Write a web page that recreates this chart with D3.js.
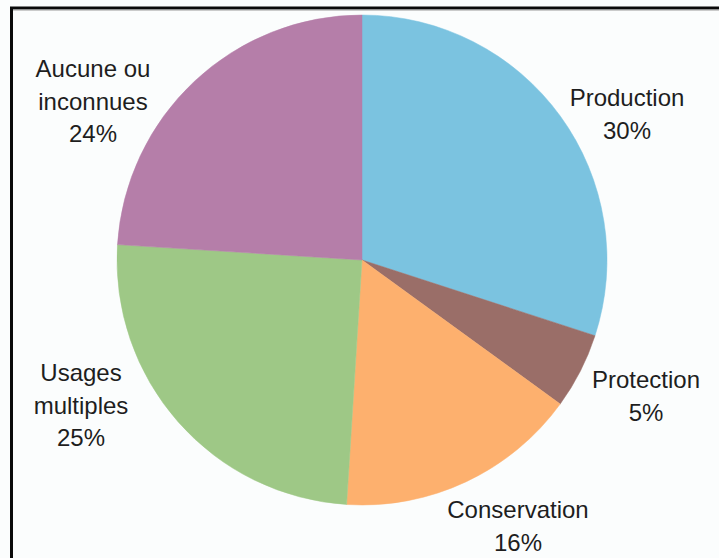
<!DOCTYPE html>
<html>
<head>
<meta charset="utf-8">
<script src="https://cdn.jsdelivr.net/npm/d3@7"></script>
<style>
  html, body { margin: 0; padding: 0; background: #fbfdfd; }
  svg { display: block; }
  text { font-family: "Liberation Sans", Arial, Helvetica, sans-serif; }
</style>
</head>
<body>
<svg id="chart" width="719" height="558"></svg>
<script>
// Affectation des forêts (parts en %)
const categories = ["Production", "Protection", "Conservation", "Usages multiples", "Aucune ou inconnues"];
const shares = [30, 5, 16, 25, 24];
const labelLines = [
  ["Production", "30%"],
  ["Protection", "5%"],
  ["Conservation", "16%"],
  ["Usages", "multiples", "25%"],
  ["Aucune ou", "inconnues", "24%"]
];
const colors = ["#7bc3e0", "#9a6e68", "#fdb06e", "#9ec886", "#b57ea9"];

// Layout
const W = 719, H = 558;
const cx = 362, cy = 260, R = 245;
const lineH = 32.5;
// label block centres (x, y of first baseline)
const labelAnchor = {
  "Production": [627, 106],
  "Protection": [646, 388],
  "Conservation": [518, 518],
  "Usages multiples": [81, 381],
  "Aucune ou inconnues": [93, 77]
};

const svg = d3.select("#chart");
svg.append("rect").attr("width", W).attr("height", H).attr("fill", "#fbfdfd");

// frame (top and left edges)
svg.append("path")
  .attr("d", `M11.5,${H} V8 H${W}`)
  .attr("fill", "none").attr("stroke", "#0a0a0a").attr("stroke-width", 3);
svg.append("line")
  .attr("x1", 13).attr("x2", W).attr("y1", 10).attr("y2", 10)
  .attr("stroke", "#9a9a9a").attr("stroke-width", 1);

const data = categories.map((c, i) => ({ cat: c, value: shares[i], lines: labelLines[i], color: colors[i] }));

const pie = d3.pie().value(d => d.value).sort(null);
const arc = d3.arc().innerRadius(0).outerRadius(R);

const g = svg.append("g").attr("transform", `translate(${cx},${cy})`);
g.selectAll("path.slice")
  .data(pie(data))
  .join("path")
  .attr("class", "slice")
  .attr("d", arc)
  .attr("fill", d => d.data.color)
  .attr("stroke", d => d.data.color)
  .attr("stroke-width", 0.5);

const labels = svg.selectAll("text.lbl")
  .data(data)
  .join("text")
  .attr("class", "lbl")
  .attr("text-anchor", "middle")
  .attr("font-size", 24)
  .attr("fill", "#1e1e1e")
  .attr("x", d => labelAnchor[d.cat][0])
  .attr("y", d => labelAnchor[d.cat][1]);

labels.selectAll("tspan")
  .data(d => d.lines.map((t, j) => ({ t, j, x: labelAnchor[d.cat][0], y: labelAnchor[d.cat][1] })))
  .join("tspan")
  .attr("x", d => d.x)
  .attr("y", d => d.y + d.j * lineH)
  .text(d => d.t);
</script>
</body>
</html>
